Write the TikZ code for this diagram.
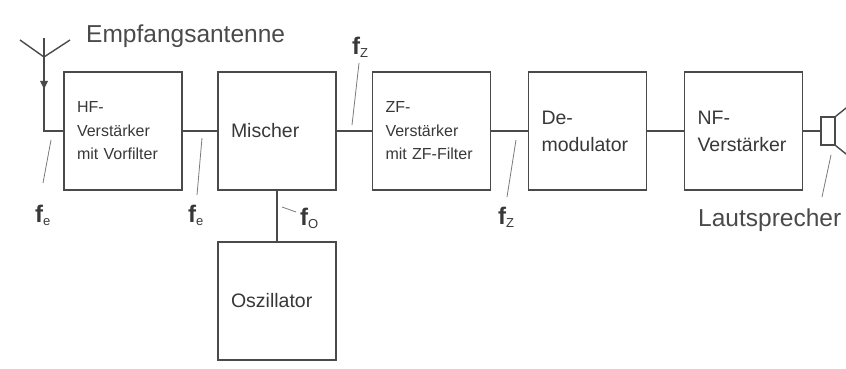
\documentclass[tikz,border=0pt]{standalone}
\usepackage{fontspec}
\setmainfont{Liberation Sans}
\usetikzlibrary{arrows.meta}
\definecolor{linegray}{HTML}{4A4A4A}
\definecolor{textgray}{HTML}{383838}
\definecolor{tickgray}{HTML}{7A7A7A}
\newcommand\fsig[1]{{\fontsize{24}{24}\selectfont\bfseries f}\raisebox{-3pt}{\fontsize{13}{13}\selectfont #1}}

\begin{document}
\begin{tikzpicture}[x=1pt,y=-1pt,
  block/.style={draw=linegray, line width=1.4pt, text=textgray, minimum height=118pt, text width=92pt, inner xsep=13pt, align=left},
  smalltext/.style={font=\fontsize{16}{23.5}\selectfont},
  bigtext/.style={font=\fontsize{19.5}{27}\selectfont},
  wire/.style={linegray, line width=1.4pt},
  tick/.style={tickgray, line width=0.8pt},
  siglabel/.style={anchor=base west, inner sep=0pt, text=textgray},
  caption/.style={anchor=base west, inner sep=0pt, text=linegray, font=\fontsize{24.5}{24.5}\selectfont}]

\useasboundingbox (0,0) rectangle (846,369);

\coordinate (antv) at (44,57);
\coordinate (anttop) at (44,38);
\coordinate (antarrow) at (44,85);
\coordinate (antfoot) at (44,131);

\node[block, smalltext] (hf) at (123,131) {HF-\\Verstärker\\mit Vorfilter};
\node[block, bigtext] (mischer) at (277,131) {Mischer};
\node[block, smalltext] (zf) at (431.5,131) {ZF-\\Verstärker\\mit ZF-Filter};
\node[block, bigtext] (demod) at (587.5,131) {De-\\modulator};
\node[block, bigtext] (nf) at (743.5,131) {NF-\\Verstärker};
\node[block, bigtext] (osz) at (277,301) {Oszillator};
\node[draw=linegray, line width=1.4pt, minimum width=14pt, minimum height=28pt, inner sep=0pt] (lsp) at (828,131) {};

% antenna
\draw[wire] (20,40) -- (antv) -- (70,40);
\draw[wire] (anttop) -- (antfoot) -- (hf);
\fill[linegray] (antarrow) +(-4,-4) -- +(4,-4) -- +(0,4) -- cycle;

\draw[wire] (hf) -- (mischer);
\draw[wire] (mischer) -- (zf);
\draw[wire] (zf) -- (demod);
\draw[wire] (demod) -- (nf);
\draw[wire] (nf) -- (lsp);
\draw[wire] (mischer) -- (osz);

% loudspeaker cone
\draw[wire] (lsp.north east) -- ++(15,-12);
\draw[wire] (lsp.south east) -- ++(15,12);

\node[caption] (antname) at (86,43) {Empfangsantenne};
\node[caption] (lspname) at (698,226) {Lautsprecher};

\node[siglabel] (fe1) at (35,222) {\fsig{e}};
\node[siglabel] (fe2) at (188,222) {\fsig{e}};
\node[siglabel] (fz1) at (352,55) {\fsig{Z}};
\node[siglabel] (fz2) at (498,224) {\fsig{Z}};
\node[siglabel] (fo) at (300,225) {\fsig{O}};

\draw[tick] (51,140) -- (43,183);
\draw[tick] (202,138) -- (197,195);
\draw[tick] (359,63) -- (352,125);
\draw[tick] (516,140) -- (507,197);
\draw[tick] (282,207) -- (296,212);
\draw[tick] (831,155) -- (822,197);

\end{tikzpicture}
\end{document}
